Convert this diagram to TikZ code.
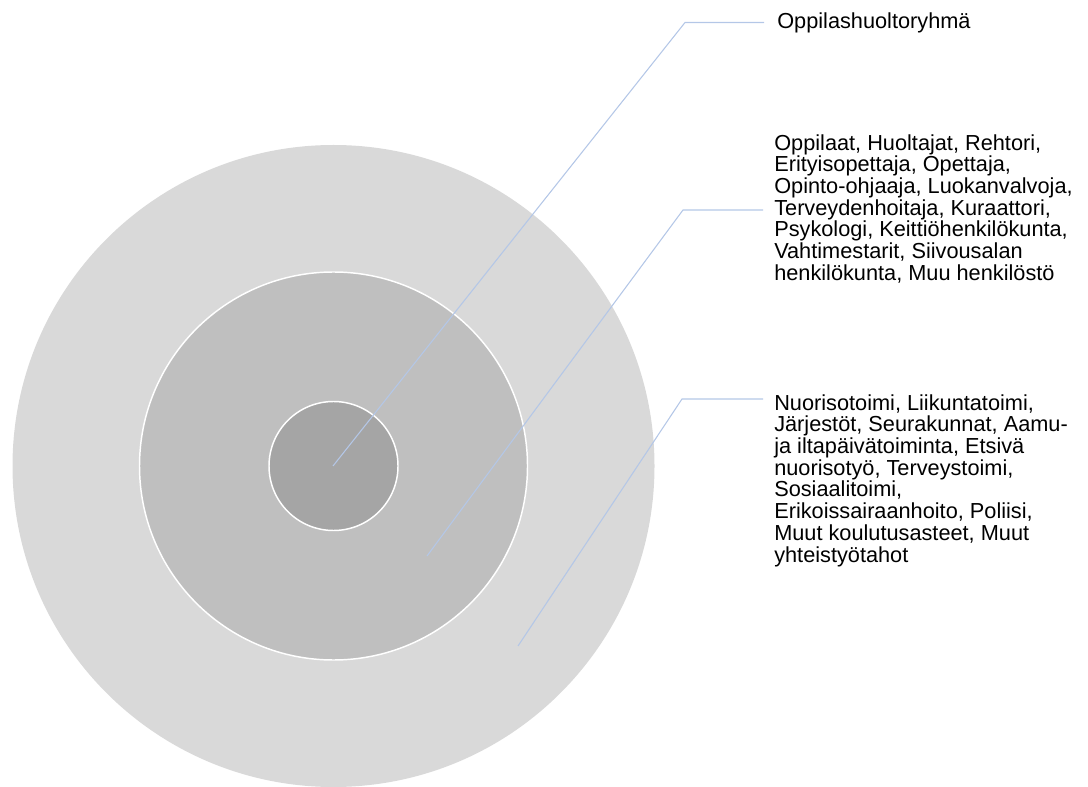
\documentclass[tikz,border=0pt]{standalone}
\usepackage{fontspec}
\setmainfont{Liberation Sans}
\definecolor{ringA}{RGB}{217,217,217}
\definecolor{ringB}{RGB}{191,191,191}
\definecolor{ringC}{RGB}{165,165,165}
\definecolor{leadblue}{RGB}{180,199,231}
\tikzset{
	ring/.style={draw=white, line width=1.1pt},
	leader/.style={draw=leadblue, line width=0.8pt},
	caption/.style={anchor=north west, inner sep=0pt, align=left,
		font=\fontsize{16.3}{16.3}\selectfont}
}
\begin{document}
\begin{tikzpicture}[x=0.75pt, y=-0.75pt]
	\useasboundingbox (0,0) rectangle (1088,787);
	
	%renkaat
	\coordinate (mid) at (333.5,466);
	\fill[ringA] (mid) circle [radius=321];
	\filldraw[ring, fill=ringB] (mid) circle [radius=194];
	\filldraw[ring, fill=ringC] (mid) circle [radius=64.5];
	
	%tekstit
	\node[caption] (ohr) at (777,12) {Oppilashuoltoryhmä};
	\node[caption] (staff) at (774,134) {Oppilaat, Huoltajat, Rehtori,\\
		Erityisopettaja, Opettaja,\\
		Opinto-ohjaaja, Luokanvalvoja,\\
		Terveydenhoitaja, Kuraattori,\\
		Psykologi, Keittiöhenkilökunta,\\
		Vahtimestarit, Siivousalan\\
		henkilökunta, Muu henkilöstö};
	\node[caption] (partners) at (774,394) {Nuorisotoimi, Liikuntatoimi,\\
		Järjestöt, Seurakunnat, Aamu-\\
		ja iltapäivätoiminta, Etsivä\\
		nuorisotyö, Terveystoimi,\\
		Sosiaalitoimi,\\
		Erikoissairaanhoito, Poliisi,\\
		Muut koulutusasteet, Muut\\
		yhteistyötahot};
	
	%viivat
	\coordinate (p1) at (333,466);
	\coordinate (k1) at (685,22.5);
	\coordinate (p2) at (427,556);
	\coordinate (k2) at (683,210);
	\coordinate (p3) at (518,646);
	\coordinate (k3) at (682,399);
	\draw[leader] (p1) -- (k1) -- ([xshift=-9.75pt]k1 -| ohr.west);
	\draw[leader] (p2) -- (k2) -- ([xshift=-8.25pt]k2 -| staff.west);
	\draw[leader] (p3) -- (k3) -- ([xshift=-8.25pt]k3 -| partners.west);
\end{tikzpicture}
\end{document}
